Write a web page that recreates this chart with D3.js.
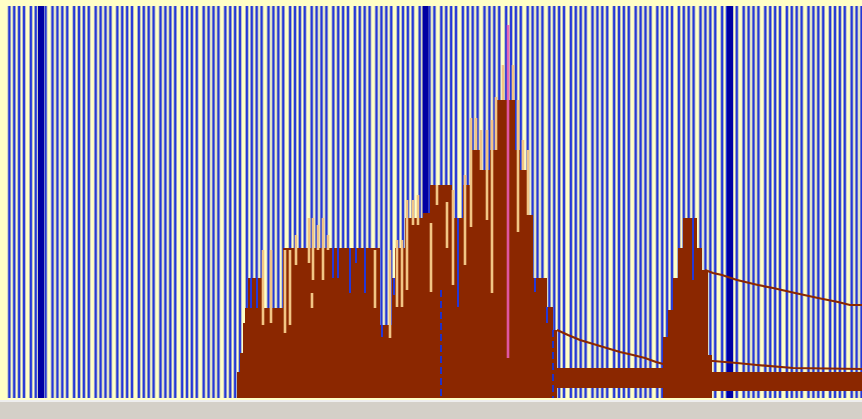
<!DOCTYPE html>
<html><head><meta charset="utf-8">
<script src="https://cdn.jsdelivr.net/npm/d3@7"></script>
<style>html,body{margin:0;padding:0;background:#d4d0c8;overflow:hidden}</style>
</head><body><svg id="chart" width="862" height="419"></svg>
<script>
// Spectrum view: channel axis (x) vs counts (y)
const channelDomain = [0, 857];
const countDomain = [0, 392];

// Filled spectrum as step segments: [chStart, chEnd, topCounts, baseCounts]
const spectrum = [
  [232,235,26,0],[235,238,45,0],[238,240,75,0],[240,243,90,0],
  [243,257,120,0],[257,278,90,0],[278,375,150,0],[375,387,73,0],
  [387,390,120,0],[390,400,150,0],[400,418,180,0],[418,425,185,0],
  [425,447,213,0],[447,458,180,0],[458,465,213,0],[465,475,248,0],
  [475,485,228,0],[485,492,248,0],[492,510,298,0],[510,515,248,0],
  [515,522,228,0],[522,528,183,0],[528,542,120,0],[542,548,91,0],
  [548,552,68,0],[552,658,30,10],[658,663,61,0],[663,668,88,0],
  [668,673,120,0],[673,678,150,0],[678,692,180,0],[692,697,150,0],
  [697,703,128,0],[703,707,43,0],[707,857,26,7]
];

// Peak-hold columns: [channel, topCounts, bottomCounts]
const peakHold = [
  [258,148,73],[266,148,75],[280,148,65],[285,148,73],[291,163,133],
  [304,180,135],[308,180,118],[313,173,148],[318,180,118],[323,163,148],
  [307,105,90],[370,148,90],[385,148,60],[392,158,91],[397,158,91],
  [402,198,108],[408,198,173],[413,203,173],[426,175,106],[432,213,193],
  [442,196,150],[448,208,113],[460,223,133],[466,280,171],[471,280,248],
  [476,268,228],[482,268,178],[487,278,105],[491,301,248],[498,333,298],
  [508,333,298],[513,298,166],[518,258,228],[523,248,183]
];

// Low columns where the grid shows through: [channel, topCounts, bottomCounts]
const gaps = [
  [246,120,90],[252,120,90],[328,150,120],[333,150,120],[345,150,105],
  [351,150,135],[360,150,105],[377,73,61],[389,120,103],[453,180,91],
  [530,120,106],[542,91,75],[688,180,118]
];

// Dotted region markers: [channel, topCounts]
const markers = [[436,108],[548,68]];

// Region boundary bands (channels)
const boundaries = [36, 420.5, 725];

// Background fit curves: [channel, counts]
const fitLeft = [[552,68],[563,63],[575,58],[585,55],[595,52],[605,49],[615,46],[628,43],[640,40],[651,36],[662,33]];
const fitUpper = [[700,128],[708,125],[717,123],[732,118],[753,113],[768,110],[790,105],[813,100],[833,96],[845,93],[857,93]];
const fitLower = [[703,37],[708,37],[732,35],[752,33],[788,30],[857,29]];

// Selected peak cursor: [channel, topCounts, bottomCounts]
const cursor = [503, 373, 40];

const svg = d3.select("#chart");
const x = d3.scaleLinear().domain(channelDomain).range([5, 862]);
const y = d3.scaleLinear().domain(countDomain).range([398, 6]);

// panel background
svg.append("rect").attr("x",0).attr("y",0).attr("width",862).attr("height",400).attr("fill","#ffffc6");
svg.append("rect").attr("x",0).attr("y",400).attr("width",862).attr("height",2).attr("fill","#eeeeee");
svg.append("rect").attr("x",0).attr("y",402).attr("width",862).attr("height",17).attr("fill","#d4d0c8");

// channel grid: groups of four lines
const grid = [];
for (let g = 4.3; g < 857; g += 21.6) {
  [0, 4.9, 9.8, 14.7].forEach(o => { if (g + o < 857) grid.push(g + o); });
}
const gridG = svg.append("g");
gridG.selectAll("rect.halo").data(grid).join("rect").attr("class","halo")
  .attr("x", d => x(d) - 1.8).attr("width", 3.6)
  .attr("y", y(392)).attr("height", y(0) - y(392)).attr("fill", "#aab0c8");
gridG.selectAll("rect.core").data(grid).join("rect").attr("class","core")
  .attr("x", d => x(d) - 0.95).attr("width", 1.9)
  .attr("y", y(392)).attr("height", y(0) - y(392)).attr("fill", "#2437d8");
svg.append("g").selectAll("rect").data(boundaries).join("rect")
  .attr("x", d => x(d) - 3).attr("width", 6)
  .attr("y", y(392)).attr("height", y(0) - y(392)).attr("fill", "#0000a2");

// spectrum fill
svg.append("g").selectAll("rect").data(spectrum).join("rect")
  .attr("x", d => x(d[0])).attr("width", d => x(d[1]) - x(d[0]))
  .attr("y", d => y(d[2])).attr("height", d => y(d[3]) - y(d[2]))
  .attr("fill", "#8b2700");

// peak hold
svg.append("g").selectAll("rect").data(peakHold).join("rect")
  .attr("x", d => x(d[0]) - 1.3).attr("width", 2.6)
  .attr("y", d => y(d[1])).attr("height", d => y(d[2]) - y(d[1]))
  .attr("fill", "#f2c585");

// grid showing through low columns
svg.append("g").selectAll("rect").data(gaps).join("rect")
  .attr("x", d => x(d[0]) - 1).attr("width", 2)
  .attr("y", d => y(d[1])).attr("height", d => y(d[2]) - y(d[1]))
  .attr("fill", "#2437d8");

svg.append("g").selectAll("line").data(markers).join("line")
  .attr("x1", d => x(d[0])).attr("x2", d => x(d[0]))
  .attr("y1", d => y(d[1])).attr("y2", y(0))
  .attr("stroke", "#2030c8").attr("stroke-width", 2).attr("stroke-dasharray", "7,4");

// background fit curves
const line = d3.line().x(d => x(d[0])).y(d => y(d[1]));
[fitLeft, fitUpper, fitLower].forEach(f => {
  svg.append("path").attr("d", line(f)).attr("fill", "none")
    .attr("stroke", "#8b2700").attr("stroke-width", 2.2);
});

// cursor
svg.append("rect").attr("x", x(cursor[0]) - 1.3).attr("width", 2.6)
  .attr("y", y(cursor[1])).attr("height", y(cursor[2]) - y(cursor[1]))
  .attr("fill", "#e85cb4").attr("opacity", 0.9);
</script></body></html>
